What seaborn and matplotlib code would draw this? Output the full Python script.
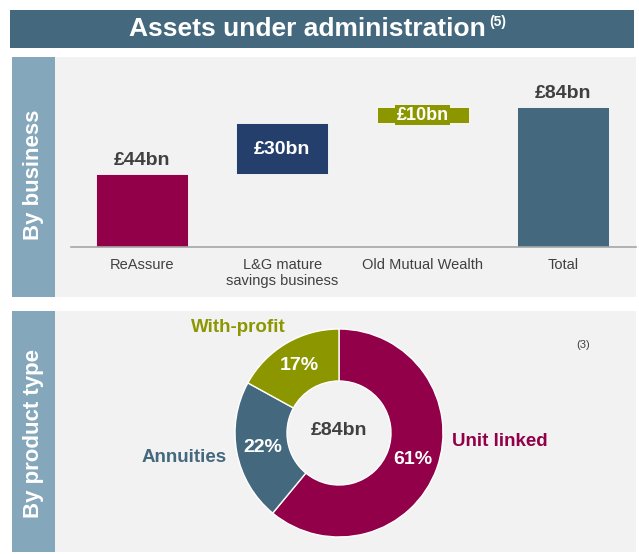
import matplotlib
matplotlib.use("Agg")
import matplotlib.pyplot as plt
from matplotlib.patches import Rectangle
import seaborn as sns
import pandas as pd

# ---- data ----
businesses = ["ReAssure", "L&G mature\nsavings business", "Old Mutual Wealth", "Total"]
business_values = [44, 30, 10, 84]
business_bottoms = [0, 44, 74, 0]
business_labels = ["£44bn", "£30bn", "£10bn", "£84bn"]

products = ["Unit linked", "Annuities", "With-profit"]
product_shares = [61, 22, 17]
product_total_label = "£84bn"

title = "Assets under administration"
title_note = "(5)"
donut_note = "(3)"

# ---- style ----
sns.set_theme(style="white")
plt.rcParams["font.family"] = ["Liberation Sans", "DejaVu Sans"]

MAROON = "#910048"
NAVY = "#243f6c"
OLIVE = "#8c9700"
SLATE = "#44687d"
STRIP = "#84a7bb"
PANEL = "#f2f2f2"
DARK = "#404040"

W, H = 639, 554
fig = plt.figure(figsize=(W / 100, H / 100), dpi=100)
fig.patch.set_facecolor("white")


def fx(x):
    return x / W


def fy(y):
    return 1 - y / H


def rect(x0, y0, x1, y1, color):
    fig.patches.append(Rectangle((fx(x0), fy(y1)), fx(x1) - fx(x0), fy(y0) - fy(y1),
                                 transform=fig.transFigure, facecolor=color,
                                 edgecolor="none", zorder=-5))


# title banner
rect(10, 10, 634, 48, SLATE)
fig.text(fx(307), fy(29), title, color="white", fontsize=19, fontweight="bold",
         ha="center", va="center")
fig.text(fx(489), fy(22), title_note, color="white", fontsize=10, fontweight="bold",
         ha="left", va="center")

# panels
rect(12, 57, 55, 297, STRIP)
rect(55, 57, 636, 297, PANEL)
rect(12, 311, 55, 552, STRIP)
rect(55, 311, 636, 552, PANEL)
fig.text(fx(34), fy(175), "By business", rotation=90, color="white", fontsize=16,
         fontweight="bold", ha="center", va="center")
fig.text(fx(34), fy(433), "By product type", rotation=90, color="white", fontsize=16,
         fontweight="bold", ha="center", va="center")

# ---- waterfall (top) ----
px_per_bn = 1.67
ax = fig.add_axes([fx(71), fy(247), fx(636) - fx(71), (247 - 80) / H])
ax.set_zorder(2)
ax.set_facecolor("none")
df = pd.DataFrame({"business": businesses, "value": business_values})
sns.barplot(data=df, x="business", y="value", ax=ax, width=0.656, color=MAROON,
            saturation=1, errorbar=None)
bar_colors = [MAROON, NAVY, OLIVE, SLATE]
for p, c, b in zip(ax.patches, bar_colors, business_bottoms):
    p.set_facecolor(c)
    p.set_edgecolor("white")
    p.set_linewidth(0.6)
    p.set_y(b)
ax.set_ylim(0, 167 / px_per_bn)
step = 140.3
ax.set_xlim(-71 / step, -71 / step + 565 / step)
for s in ["top", "right", "left"]:
    ax.spines[s].set_visible(False)
ax.spines["bottom"].set_color("#a6a6a6")
ax.spines["bottom"].set_linewidth(1.2)
ax.set_yticks([])
ax.set_xlabel("")
ax.set_ylabel("")
ax.tick_params(axis="x", length=0, pad=8, labelsize=10.5, labelcolor=DARK)
for lbl in ax.get_xticklabels():
    lbl.set_verticalalignment("top")
    lbl.set_linespacing(1.15)

for i, (v, b, t) in enumerate(zip(business_values, business_bottoms, business_labels)):
    if i in (0, 3):
        ax.text(i, b + v + 3, t, ha="center", va="bottom", fontsize=14,
                fontweight="bold", color=DARK)
    elif i == 1:
        ax.text(i, b + v / 2 - 0.8, t, ha="center", va="center", fontsize=14,
                fontweight="bold", color="white")
    else:
        ax.text(i, b + v / 2, t, ha="center", va="center", fontsize=13,
                fontweight="bold", color="white",
                bbox=dict(boxstyle="square,pad=0.1", facecolor=OLIVE, edgecolor="none"))

# ---- donut (bottom) ----
cx, cy, R = 339, 433, 104
half = 110
ax2 = fig.add_axes([fx(cx - half), fy(cy + half), 2 * half / W, 2 * half / H])
ax2.set_zorder(2)
ax2.set_facecolor("none")
wedges, _, autotexts = ax2.pie(
    product_shares, colors=[MAROON, SLATE, OLIVE], startangle=90, counterclock=False,
    radius=1, wedgeprops=dict(width=0.5, edgecolor="white", linewidth=1),
    autopct=lambda p: f"{p:.0f}%", pctdistance=0.75,
    textprops=dict(color="white", fontsize=14, fontweight="bold"))
lim = half / R
ax2.set_xlim(-lim, lim)
ax2.set_ylim(-lim, lim)
ax2.set_aspect("equal")
ax2.axis("off")
ax2.text(0, 0.02, product_total_label, ha="center", va="center", fontsize=14,
         fontweight="bold", color=DARK)

fig.text(fx(452), fy(442), products[0], color=MAROON, fontsize=13.5,
         fontweight="bold", ha="left", va="center")
fig.text(fx(227), fy(457), products[1], color=SLATE, fontsize=13.5,
         fontweight="bold", ha="right", va="center")
fig.text(fx(238), fy(327), products[2], color=OLIVE, fontsize=13.5,
         fontweight="bold", ha="center", va="center")
fig.text(fx(583), fy(345), donut_note, color=DARK, fontsize=8, ha="center",
         va="center")

fig.savefig("out.png", dpi=100, facecolor="white")
